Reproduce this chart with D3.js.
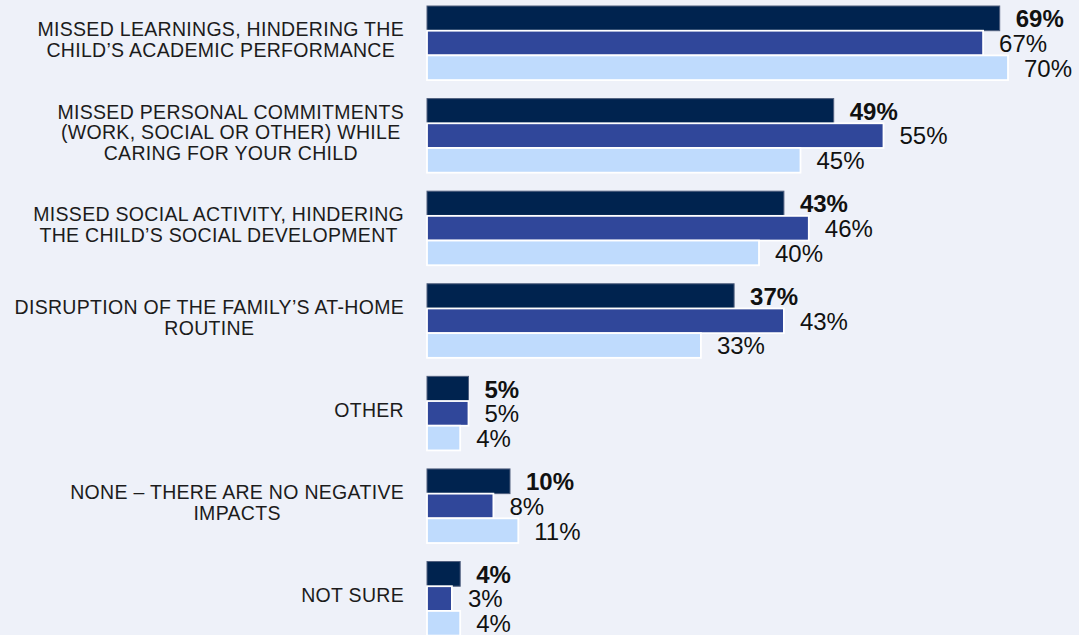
<!DOCTYPE html>
<html>
<head>
<meta charset="utf-8">
<script src="https://cdn.jsdelivr.net/npm/d3@7"></script>
<style>
  html, body { margin: 0; padding: 0; background: #eef1f9; }
  svg { display: block; }
  .cat { font-family: "Liberation Sans", Arial, sans-serif; font-size: 19.5px; letter-spacing: 0.3px; fill: #1c1c1c; }
  .val { font-family: "Liberation Sans", Arial, sans-serif; font-size: 24px; fill: #111; }
</style>
</head>
<body>
<div id="chart"></div>
<script>
const categories = [
  ["MISSED LEARNINGS, HINDERING THE", "CHILD\u2019S ACADEMIC PERFORMANCE"],
  ["MISSED PERSONAL COMMITMENTS", "(WORK, SOCIAL OR OTHER) WHILE", "CARING FOR YOUR CHILD"],
  ["MISSED SOCIAL ACTIVITY, HINDERING", "THE CHILD\u2019S SOCIAL DEVELOPMENT"],
  ["DISRUPTION OF THE FAMILY\u2019S AT-HOME", "ROUTINE"],
  ["OTHER"],
  ["NONE \u2013 THERE ARE NO NEGATIVE", "IMPACTS"],
  ["NOT SURE"]
];
const series = ["total", "s2", "s3"];
const totalValues = [69, 49, 43, 37, 5, 10, 4];
const s2Values = [67, 55, 46, 43, 5, 8, 3];
const s3Values = [70, 45, 40, 33, 4, 11, 4];

const width = 1079, height = 635;
const colors = { total: "#00234f", s2: "#30479a", s3: "#bfdbfd" };
const strokes = { total: "#50607f", s2: "#ffffff", s3: "#ffffff" };

const rows = categories.map((c, i) => ({
  id: i, lines: c,
  vals: [
    { key: "total", v: totalValues[i] },
    { key: "s2", v: s2Values[i] },
    { key: "s3", v: s3Values[i] }
  ]
}));

const svg = d3.select("#chart").append("svg")
  .attr("width", width)
  .attr("height", height);

const x = d3.scaleLinear().domain([0, 100]).range([427, 1257]);
const y = d3.scaleBand().domain(rows.map(d => d.id)).range([6, 635.6]).paddingInner(0.2).paddingOuter(0);
const ys = d3.scaleBand().domain(series).range([0, y.bandwidth()]);

const groups = svg.selectAll("g.grp")
  .data(rows)
  .join("g")
  .attr("class", "grp")
  .attr("transform", d => `translate(0,${y(d.id)})`);

groups.selectAll("rect")
  .data(d => d.vals)
  .join("rect")
  .attr("x", x(0))
  .attr("y", d => ys(d.key))
  .attr("width", d => x(d.v) - x(0))
  .attr("height", ys.bandwidth())
  .attr("fill", d => colors[d.key])
  .attr("stroke", d => strokes[d.key])
  .attr("stroke-width", d => d.key === "total" ? 1 : 1.8);

groups.selectAll("text.val")
  .data(d => d.vals)
  .join("text")
  .attr("class", "val")
  .attr("x", d => x(d.v) + 16)
  .attr("y", d => ys(d.key) + ys.bandwidth() - 3.5)
  .attr("font-weight", d => d.key === "total" ? "bold" : "normal")
  .text(d => d.v + "%");

// category labels: block right-aligned, lines centered within block
const lineH = 20.5;
const rightEdge = 404;
groups.each(function(d) {
  const g = d3.select(this);
  const t = g.append("text").attr("class", "cat").attr("text-anchor", "middle");
  const n = d.lines.length;
  const cy = y.bandwidth() / 2 - 3.5;
  const top = cy - (n * lineH) / 2;
  const spans = d.lines.map((ln, i) => t.append("tspan")
    .attr("y", top + (i + 0.5) * lineH + 7)
    .text(ln));
  const maxW = d3.max(spans, s => s.node().getComputedTextLength());
  spans.forEach(s => s.attr("x", rightEdge - maxW / 2));
});
</script>
</body>
</html>
